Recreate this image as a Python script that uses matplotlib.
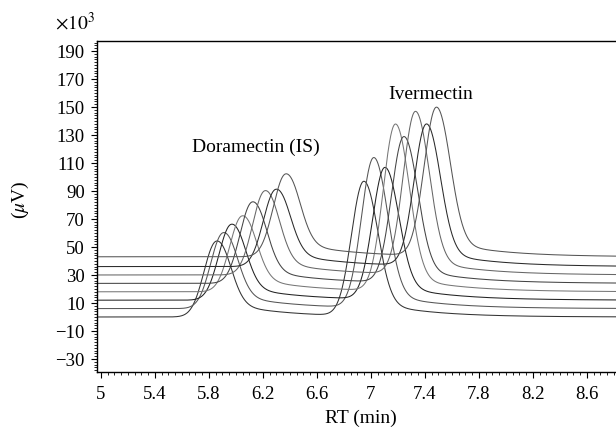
import numpy as np
import matplotlib.pyplot as plt
from matplotlib.ticker import FormatStrFormatter

plt.rcParams["font.family"] = ["Liberation Serif", "DejaVu Serif"]
plt.rcParams["mathtext.fontset"] = "stix"

# one entry per injection (trace), bottom to top
baselines = [0, 6, 12, 18, 24, 30, 36, 43]
dora_rt = [5.85, 5.90, 5.96, 6.04, 6.116, 6.21, 6.29, 6.363]
dora_top = [54, 60, 66, 72, 82, 90, 91, 102]
iver_rt = [6.943, 7.017, 7.099, 7.178, 7.24, 7.326, 7.407, 7.481]
iver_top = [96, 113, 106, 137, 128, 146, 137, 149]
colors = ["#333333", "#555555", "#222222", "#777777", "#444444", "#666666", "#2a2a2a", "#555555"]

xticks = [5, 5.4, 5.8, 6.2, 6.6, 7, 7.4, 7.8, 8.2, 8.6]
yticks = list(range(-30, 191, 20))

TAIL_A, TAIL_TAU = 12, 0.4


def tail(x, mu):
    step = 1 / (1 + np.exp(-(x - mu - 0.05) / 0.03))
    return TAIL_A * np.exp(-np.clip(x - mu, 0, None) / TAIL_TAU) * step


def peak(x, mu, h):
    sig = np.where(x < mu, 0.088, 0.10)
    h0 = h - tail(np.array([mu]), mu)[0]
    return h0 * np.exp(-0.5 * ((x - mu) / sig) ** 2) + tail(x, mu)


fig = plt.figure(figsize=(6.16, 4.35), dpi=100)
ax = fig.add_axes([0.158, 0.1425, 0.842, 0.761])

x = np.linspace(4.97, 8.82, 1600)
for b, md, hd, mi, hi, c in zip(baselines, dora_rt, dora_top, iver_rt, iver_top, colors):
    y = b + peak(x, md, hd - b) + peak(x, mi, hi - b)
    ax.plot(x, y, color=c, lw=0.75)

ax.set_xlim(4.974, 8.815)
ax.set_ylim(-39.3, 197.1)
ax.set_xticks(xticks)
ax.set_yticks(yticks)
ax.set_xticks(np.arange(5.0, 8.81, 0.05), minor=True)
ax.set_yticks(np.arange(-38, 197, 2), minor=True)
ax.xaxis.set_major_formatter(FormatStrFormatter("%g"))
ax.tick_params(which="major", direction="out", length=4, width=0.8, labelsize=13.5, pad=5)
ax.tick_params(which="minor", direction="out", length=2, width=0.6)
ax.spines["right"].set_visible(False)
for s in ["left", "top", "bottom"]:
    ax.spines[s].set_linewidth(1.0)

ax.text(6.148, 121.6, "Doramectin (IS)", fontsize=14, ha="center", va="center")
ax.text(7.444, 159.4, "Ivermectin", fontsize=14, ha="center", va="center")

fig.text(20 / 616, 1 - 200 / 435, r"($\mu$V)", rotation=90, fontsize=14, ha="center", va="center")
fig.text(361 / 616, 1 - 418 / 435, "RT (min)", fontsize=14, ha="center", va="center")
fig.text(75 / 616, 1 - 23 / 435, r"$\times10^3$", fontsize=14, ha="center", va="center")

plt.savefig("out.png", dpi=100)
